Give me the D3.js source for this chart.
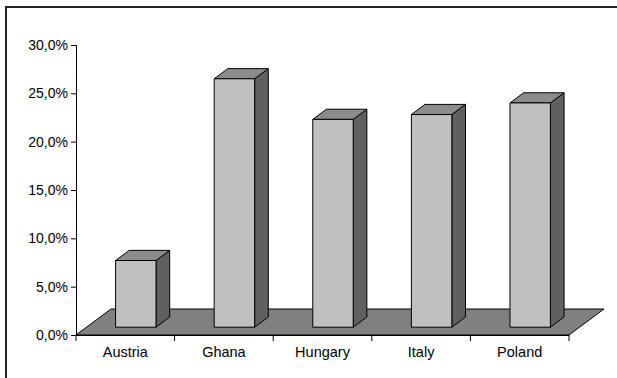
<!DOCTYPE html>
<html>
<head>
<meta charset="utf-8">
<script src="https://cdn.jsdelivr.net/npm/d3@7"></script>
<style>
  html, body { margin: 0; padding: 0; background: #fff; overflow: hidden; }
  svg { display: block; font-family: "Liberation Sans", Arial, sans-serif; }
</style>
</head>
<body>
<svg id="chart" width="617" height="378"></svg>
<script>
// Share by country
const categories = ["Austria", "Ghana", "Hungary", "Italy", "Poland"];
const values = [0.069, 0.257, 0.215, 0.220, 0.232];
const yTicks = [0, 0.05, 0.10, 0.15, 0.20, 0.25, 0.30];

const W = 617, H = 378;
const svg = d3.select("#chart");

// plot frame
const plotLeft = 76, plotRight = 569, plotBottom = 335, plotTop = 45;
// oblique depth of the floor (x shift, y shift)
const depth = { dx: 35, dy: -26 };
const barDepthFront = 0.30, barDepthBack = 0.69;

const x = d3.scaleBand().domain(categories).range([plotLeft, plotRight]).padding(0);
const y = d3.scaleLinear().domain([0, 0.30]).range([plotBottom, plotTop]);
const barW = x.bandwidth() * 0.41;

const fmt = d3.formatLocale({ decimal: ",", thousands: ".", grouping: [3], currency: ["", "€"] }).format(".1%");

// chart border
svg.append("rect")
  .attr("x", 6).attr("y", 7)
  .attr("width", W + 10).attr("height", H + 10)
  .attr("fill", "none").attr("stroke", "#222").attr("stroke-width", 2);

// floor
const floorPts = [
  [plotLeft, plotBottom], [plotRight, plotBottom],
  [plotRight + depth.dx, plotBottom + depth.dy], [plotLeft + depth.dx, plotBottom + depth.dy]
];
svg.append("polygon")
  .attr("points", floorPts.map(p => p.join(",")).join(" "))
  .attr("fill", "#808080").attr("stroke", "#000").attr("stroke-width", 1);

// bars
const bars = svg.append("g");
categories.forEach((c, i) => {
  const fx = x(c) + x.bandwidth() / 2 + barDepthFront * depth.dx - barW / 2;
  const fy0 = y(0) + barDepthFront * depth.dy;
  const h = y(0) - y(values[i]);
  const fy1 = fy0 - h;
  const ddx = (barDepthBack - barDepthFront) * depth.dx;
  const ddy = (barDepthBack - barDepthFront) * depth.dy;
  const g = bars.append("g").attr("stroke", "#000").attr("stroke-width", 1).attr("stroke-linejoin", "round");
  // side
  g.append("polygon")
    .attr("points", [[fx + barW, fy1], [fx + barW + ddx, fy1 + ddy], [fx + barW + ddx, fy0 + ddy], [fx + barW, fy0]].map(p => p.join(",")).join(" "))
    .attr("fill", "#606060");
  // top
  g.append("polygon")
    .attr("points", [[fx, fy1], [fx + barW, fy1], [fx + barW + ddx, fy1 + ddy], [fx + ddx, fy1 + ddy]].map(p => p.join(",")).join(" "))
    .attr("fill", "#8c8c8c");
  // front
  g.append("rect")
    .attr("x", fx).attr("y", fy1).attr("width", barW).attr("height", h)
    .attr("fill", "#c0c0c0");
});

// value axis
const yAxis = svg.append("g")
  .attr("transform", `translate(${plotLeft},0)`)
  .call(d3.axisLeft(y).tickValues(yTicks).tickFormat(fmt).tickSize(5).tickPadding(3));
yAxis.select(".domain").attr("stroke", "#000");
yAxis.selectAll("line").attr("stroke", "#000");
yAxis.selectAll("text").attr("font-size", 14).attr("fill", "#000")
  .attr("font-family", "Liberation Sans, Arial, sans-serif");

// category axis
const xAxis = svg.append("g")
  .attr("transform", `translate(0,${plotBottom})`)
  .call(d3.axisBottom(x).tickSize(0).tickPadding(12));
xAxis.select(".domain").attr("stroke", "#000").attr("d", `M${plotLeft},0.5H${plotRight}`);
xAxis.selectAll("text").attr("font-size", 14.5).attr("fill", "#000")
  .attr("font-family", "Liberation Sans, Arial, sans-serif");
const edges = categories.map(c => x(c)).concat([x(categories[categories.length - 1]) + x.bandwidth()]);
xAxis.selectAll(".edge").data(edges).enter().append("line")
  .attr("class", "edge")
  .attr("x1", d => d).attr("x2", d => d)
  .attr("y1", 0).attr("y2", 6)
  .attr("stroke", "#000");
</script>
</body>
</html>
